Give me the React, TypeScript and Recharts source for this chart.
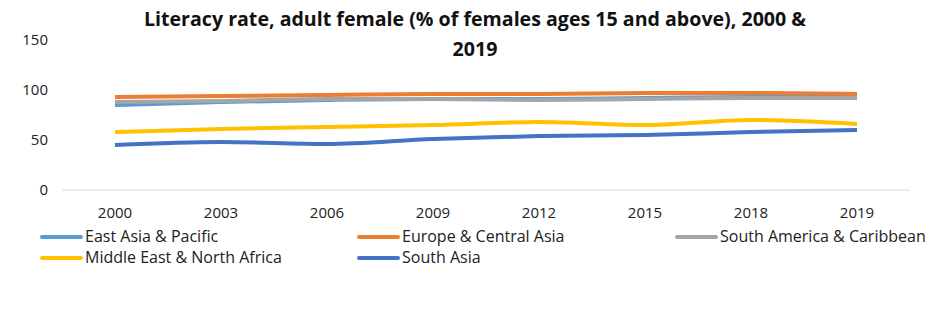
import { Legend, Line, LineChart, XAxis, YAxis } from "recharts"

const years = ["2000", "2003", "2006", "2009", "2012", "2015", "2018", "2019"]
const eastAsia = [85, 88, 90, 91, 91, 92, 93, 93]
const europe = [93, 94, 95, 96, 96, 97, 97, 96]
const southAmerica = [88, 89, 91, 91, 90, 91, 92, 92]
const middleEast = [58, 61, 63, 65, 68, 65, 70, 66]
const southAsia = [45, 48, 46, 51, 54, 55, 58, 60]
const yTicks = [0, 50, 100, 150]

const series = [
  { key: "eastAsia", name: "East Asia & Pacific", color: "#5B9BD5", values: eastAsia },
  { key: "europe", name: "Europe & Central Asia", color: "#ED7D31", values: europe },
  { key: "southAmerica", name: "South America & Caribbean", color: "#A5A5A5", values: southAmerica },
  { key: "middleEast", name: "Middle East & North Africa", color: "#FFC000", values: middleEast },
  { key: "southAsia", name: "South Asia", color: "#4472C4", values: southAsia },
]

const data = years.map((year, i) => {
  const row: Record<string, string | number> = { year }
  series.forEach((s) => (row[s.key] = s.values[i]))
  return row
})

const font = "'Open Sans', sans-serif"
const colLeft = [40, 357, 675]

function ChartLegend() {
  return (
    <div style={{ position: "relative", width: 950, height: 50, fontFamily: font, fontSize: 16, color: "#222" }}>
      {series.map((s, i) => (
        <div
          key={s.key}
          style={{
            position: "absolute",
            left: colLeft[i % 3],
            top: Math.floor(i / 3) * 21,
            display: "flex",
            alignItems: "center",
            whiteSpace: "nowrap",
            lineHeight: "21px",
          }}
        >
          <span style={{ display: "inline-block", width: 43, height: 4, background: s.color, borderRadius: 2, marginRight: 2 }} />
          <span>{s.name}</span>
        </div>
      ))}
    </div>
  )
}

export default function App() {
  return (
    <div style={{ position: "relative", width: 950, height: 325, margin: -8, background: "#fff" }}>
      <div
        style={{
          position: "absolute",
          top: 4,
          left: 0,
          width: 950,
          textAlign: "center",
          fontFamily: font,
          fontWeight: 700,
          fontSize: 19.6,
          lineHeight: "30px",
          color: "#111",
        }}
      >
        Literacy rate, adult female (% of females ages 15 and above), 2000 &amp;
        <br />
        2019
      </div>
      <LineChart width={950} height={325} data={data} margin={{ top: 40, right: 40, left: 0, bottom: 97 }}>
        <XAxis
          dataKey="year"
          tickLine={false}
          axisLine={{ stroke: "#D9D9D9" }}
          tick={{ fill: "#222", fontSize: 15, fontFamily: font }}
          tickMargin={11}
          padding={{ left: 53, right: 53 }}
          height={38}
        />
        <YAxis
          domain={[0, 150]}
          ticks={yTicks}
          tickLine={false}
          axisLine={false}
          tick={{ fill: "#222", fontSize: 15, fontFamily: font }}
          tickMargin={8}
          width={62}
        />
        <Legend
          verticalAlign="middle"
          layout="horizontal"
          content={() => <ChartLegend />}
          wrapperStyle={{ left: 0, top: 226 }}
        />
        {series.map((s) => (
          <Line
            key={s.key}
            type="monotone"
            dataKey={s.key}
            name={s.name}
            stroke={s.color}
            strokeWidth={4}
            dot={false}
            isAnimationActive={false}
          />
        ))}
      </LineChart>
    </div>
  )
}
